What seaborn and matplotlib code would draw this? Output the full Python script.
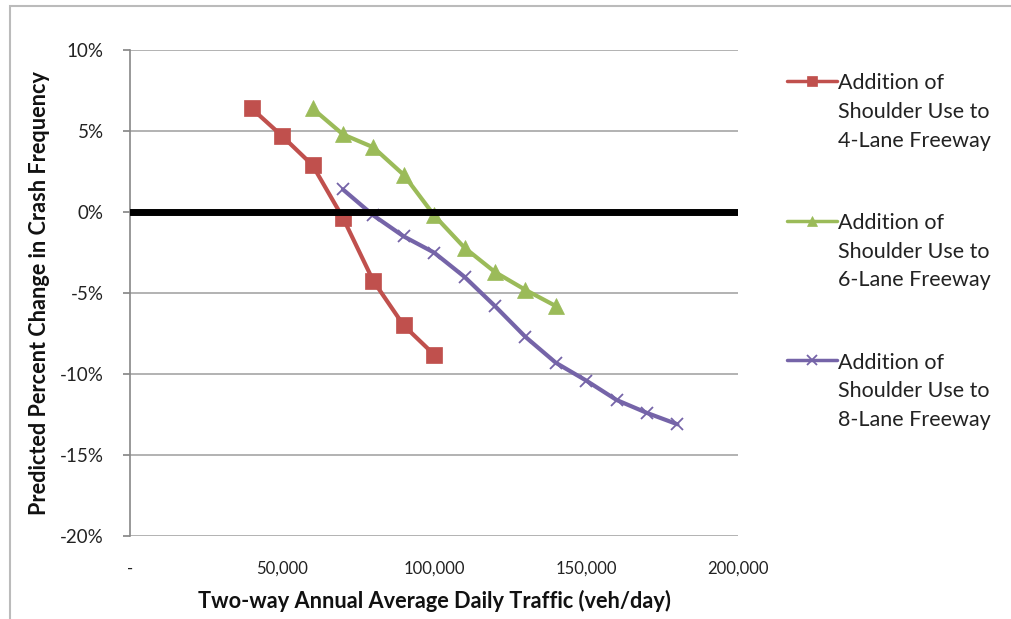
import matplotlib
matplotlib.use("Agg")
import matplotlib.pyplot as plt
import seaborn as sns
import pandas as pd
from matplotlib.ticker import FuncFormatter

# ---- data ----
series_names = [
    "Addition of\nShoulder Use to\n4-Lane Freeway",
    "Addition of\nShoulder Use to\n6-Lane Freeway",
    "Addition of\nShoulder Use to\n8-Lane Freeway",
]
x4 = [40000, 50000, 60000, 70000, 80000, 90000, 100000]
y4 = [6.4, 4.7, 2.9, -0.35, -4.25, -7.0, -8.8]
x6 = [60000, 70000, 80000, 90000, 100000, 110000, 120000, 130000, 140000]
y6 = [6.4, 4.8, 4.0, 2.3, -0.2, -2.2, -3.7, -4.8, -5.8]
x8 = [70000, 80000, 90000, 100000, 110000, 120000, 130000, 140000, 150000, 160000, 170000, 180000]
y8 = [1.4, -0.2, -1.5, -2.5, -4.0, -5.8, -7.7, -9.3, -10.4, -11.6, -12.4, -13.1]
x_ticks = [0, 50000, 100000, 150000, 200000]
y_ticks = [-20, -15, -10, -5, 0, 5, 10]

colors = ["#C0504D", "#9BBB59", "#7564A8"]
markers = ["s", "^", "x"]

df = pd.concat([
    pd.DataFrame({"x": x4, "y": y4, "s": series_names[0]}),
    pd.DataFrame({"x": x6, "y": y6, "s": series_names[1]}),
    pd.DataFrame({"x": x8, "y": y8, "s": series_names[2]}),
])

sns.set_theme(style="white")
plt.rcParams["font.family"] = ["Lato", "DejaVu Sans"]

fig = plt.figure(figsize=(10.12, 6.19), dpi=100)
ax = fig.add_axes([0.1285, 0.134, 0.601, 0.785])

ax.yaxis.grid(True, color="#A6A6A6", lw=1.2)
ax.set_axisbelow(True)

for i, name in enumerate(series_names):
    sub = df[df["s"] == name]
    sns.lineplot(data=sub, x="x", y="y", ax=ax, color=colors[i], marker=markers[i],
                 markersize=11 if markers[i] != "x" else 9,
                 markeredgewidth=1.3 if markers[i] == "x" else 0.5,
                 markeredgecolor=colors[i], lw=3, label=name, sort=False)

ax.axhline(0, color="black", lw=5, zorder=3)

ax.set_xlim(0, 200000)
ax.set_ylim(-20, 10)
ax.set_xticks(x_ticks)
ax.set_yticks(y_ticks)
ax.xaxis.set_major_formatter(FuncFormatter(lambda v, p: "-" if v == 0 else f"{int(v):,}"))
ax.yaxis.set_major_formatter(FuncFormatter(lambda v, p: f"{int(v)}%"))
ax.tick_params(axis="x", length=0, pad=18, labelsize=12, colors="#222222")
ax.tick_params(axis="y", length=5, direction="out", left=True, pad=14, labelsize=13.5, colors="#222222", color="#888888")

for s in ["top", "right", "bottom"]:
    ax.spines[s].set_visible(False)
ax.spines["left"].set_color("#888888")
ax.spines["left"].set_linewidth(1.2)

ax.set_xlabel("Two-way Annual Average Daily Traffic (veh/day)", fontsize=15.7, fontweight="bold", labelpad=9, color="#111111")
ax.set_ylabel("Predicted Percent Change in Crash Frequency", fontsize=15.6, fontweight="bold", labelpad=7, color="#111111")

leg = ax.legend(loc="upper left", bbox_to_anchor=(1.0665, 0.970), frameon=False, fontsize=15.5,
                handlelength=2.3, handletextpad=0.05, labelspacing=2.9, borderaxespad=0)
for t in leg.get_texts():
    t.set_color("#222222")
    t.set_linespacing(1.54)
for col in leg._legend_handle_box.get_children():
    for hp in col.get_children():
        hp.align = "top"
for h in leg.legend_handles:
    h.set_markersize(7)
    h.set_linewidth(2.5)

# chart border
fig.patches.append(plt.Rectangle((0.01, -0.01), 1.0, 1.0, transform=fig.transFigure,
                                 fill=False, edgecolor="#BBBBBB", lw=1.5))

fig.savefig("out.png", dpi=100)
